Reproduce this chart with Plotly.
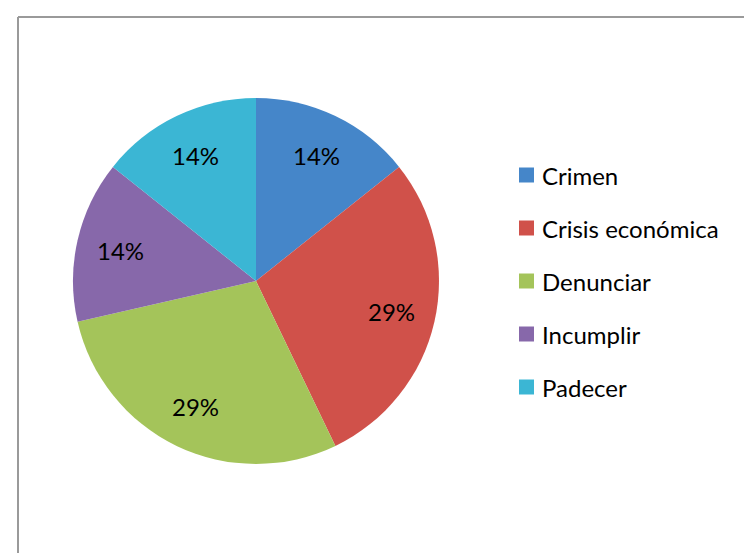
import math
import plotly.graph_objects as go

# Data
categorias = ["Crimen", "Crisis económica", "Denunciar", "Incumplir", "Padecer"]
valores = [1, 2, 2, 1, 1]
colores = ["#4586c9", "#d0514a", "#a4c45a", "#8768aa", "#3bb6d4"]

W, H = 744, 553
# pie geometry in pixels
cx, cy, r = 256, 281, 183

fig = go.Figure()
fig.add_trace(go.Pie(
    labels=categorias,
    values=valores,
    sort=False,
    direction="clockwise",
    rotation=0,
    marker=dict(colors=colores, line=dict(width=0)),
    textinfo="none",
    hoverinfo="label+percent",
    showlegend=False,
    domain=dict(x=[(cx - r) / W, (cx + r) / W],
                y=[1 - (cy + r) / H, 1 - (cy - r) / H]),
))

FONT = "Lato"
annotations = []
shapes = []

# percentage labels placed at the middle angle of each slice
total = sum(valores)
acc = 0
for v in valores:
    mid = (acc + v / 2) / total * 2 * math.pi
    acc += v
    rr = 0.76 * r
    x = cx + rr * math.sin(mid)
    y = cy - rr * math.cos(mid)
    annotations.append(dict(
        x=x / W, y=1 - y / H, xref="paper", yref="paper",
        text=f"{round(100 * v / total)}%", showarrow=False,
        font=dict(family=FONT, size=24, color="#000000"),
        xanchor="center", yanchor="middle",
    ))

# legend: colour squares with labels
lx, ly0, dy, sq = 519, 175, 53, 15
for i, (lab, col) in enumerate(zip(categorias, colores)):
    yc = ly0 + i * dy
    shapes.append(dict(
        type="rect", xref="paper", yref="paper",
        x0=lx / W, x1=(lx + sq) / W,
        y0=1 - (yc + sq / 2) / H, y1=1 - (yc - sq / 2) / H,
        fillcolor=col, line=dict(width=0),
    ))
    annotations.append(dict(
        x=(lx + sq + 6) / W, y=1 - yc / H, xref="paper", yref="paper",
        text=lab, showarrow=False,
        font=dict(family=FONT, size=24, color="#000000"),
        xanchor="left", yanchor="middle",
    ))

# chart frame (left and top edges)
fx, fy = 18, 17
shapes.append(dict(type="line", xref="paper", yref="paper",
                   x0=fx / W, x1=fx / W, y0=0, y1=1 - fy / H,
                   line=dict(color="#9a9a9a", width=2)))
shapes.append(dict(type="line", xref="paper", yref="paper",
                   x0=fx / W, x1=1, y0=1 - fy / H, y1=1 - fy / H,
                   line=dict(color="#9a9a9a", width=2)))

fig.update_layout(
    width=W, height=H,
    margin=dict(l=0, r=0, t=0, b=0),
    paper_bgcolor="white",
    plot_bgcolor="white",
    annotations=annotations,
    shapes=shapes,
)

fig.write_html("out.html")
